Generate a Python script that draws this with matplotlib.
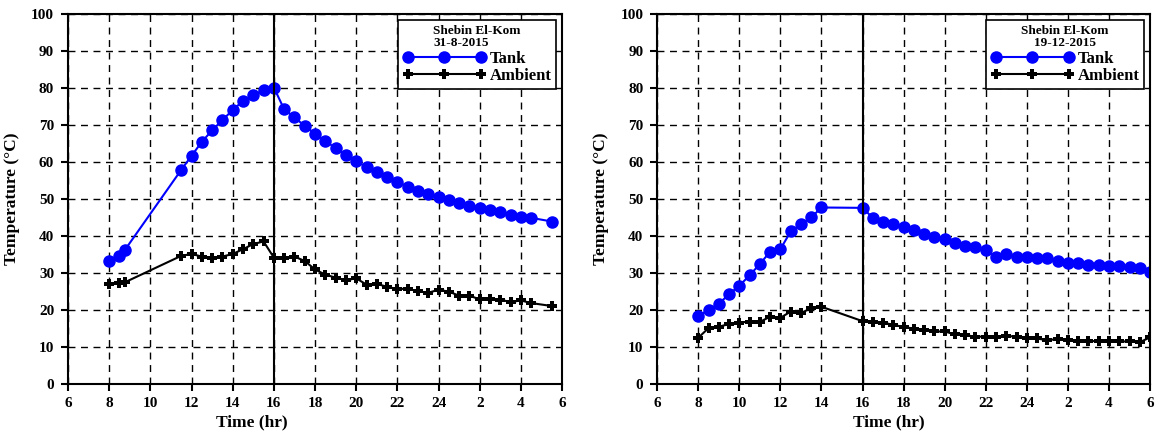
import numpy as np
import matplotlib.pyplot as plt

plt.rcParams['font.family'] = ['Liberation Serif', 'DejaVu Serif']
plt.rcParams['font.weight'] = 'bold'

# hours counted from midnight of the test day (24+ means next morning)
t1 = [8.0, 8.5, 8.75, 11.5, 12.0, 12.5, 13.0, 13.5, 14.0, 14.5, 15.0, 15.5, 16.0,
      16.5, 17.0, 17.5, 18.0, 18.5, 19.0, 19.5, 20.0, 20.5, 21.0, 21.5, 22.0,
      22.5, 23.0, 23.5, 24.0, 24.5, 25.0, 25.5, 26.0, 26.5, 27.0, 27.5, 28.0,
      28.5, 29.5]
tank1 = [33.3, 34.5, 36.1, 57.9, 61.7, 65.5, 68.6, 71.4, 74.1, 76.6, 78.1, 79.5, 80.2,
         74.3, 72.1, 69.8, 67.7, 65.7, 63.8, 61.9, 60.2, 58.7, 57.4, 55.9, 54.7,
         53.3, 52.3, 51.4, 50.6, 49.6, 49.0, 48.2, 47.6, 47.0, 46.5, 45.8, 45.2,
         44.9, 43.9]
amb1 = [27.0, 27.3, 27.4, 34.6, 35.1, 34.4, 33.9, 34.4, 35.1, 36.4, 37.8, 38.5, 34.1,
        34.1, 34.4, 33.2, 30.9, 29.5, 28.7, 28.0, 28.5, 26.8, 27.0, 26.2, 25.6,
        25.7, 25.0, 24.6, 25.4, 24.9, 23.8, 23.8, 22.8, 22.8, 22.7, 22.1, 22.5,
        21.8, 21.0]

t2 = [8.0, 8.5, 9.0, 9.5, 10.0, 10.5, 11.0, 11.5, 12.0, 12.5, 13.0, 13.5, 14.0,
      16.0, 16.5, 17.0, 17.5, 18.0, 18.5, 19.0, 19.5, 20.0, 20.5, 21.0, 21.5,
      22.0, 22.5, 23.0, 23.5, 24.0, 24.5, 25.0, 25.5, 26.0, 26.5, 27.0, 27.5,
      28.0, 28.5, 29.0, 29.5, 30.0]
tank2 = [18.4, 19.8, 21.6, 24.2, 26.5, 29.3, 32.4, 35.7, 36.4, 41.2, 43.2, 45.0, 47.7,
         47.6, 44.9, 43.9, 43.3, 42.4, 41.5, 40.5, 39.6, 39.2, 38.0, 37.4, 37.0,
         36.3, 34.3, 35.1, 34.3, 34.2, 34.0, 33.9, 33.1, 32.7, 32.7, 32.2, 32.0,
         31.9, 31.8, 31.6, 31.4, 30.1]
amb2 = [12.4, 15.0, 15.4, 16.1, 16.5, 16.8, 16.7, 18.1, 17.8, 19.5, 19.1, 20.4, 20.8,
        16.9, 16.8, 16.5, 15.9, 15.3, 14.9, 14.5, 14.1, 14.1, 13.3, 13.1, 12.7,
        12.7, 12.7, 12.9, 12.7, 12.3, 12.2, 11.7, 12.1, 11.8, 11.4, 11.5, 11.5,
        11.5, 11.4, 11.4, 11.2, 12.5]

xticks = np.arange(6, 31, 2)
xlabels = [str(h) if h <= 24 else str(h - 24) for h in xticks]


def panel(ax, t, tank, amb, title, align, xlab_pos):
    ax.plot(t, tank, '-o', color='blue', lw=1.5, ms=8, label='Tank')
    ax.plot(t, amb, '-P', color='black', lw=1.5, ms=7.5, mew=0, label='Ambient')
    ax.set_xlim(6, 30)
    ax.set_ylim(0, 100)
    ax.set_xticks(xticks)
    ax.set_xticklabels(xlabels)
    ax.set_yticks(np.arange(0, 101, 10))
    ax.grid(True, linestyle=(0, (5, 4)), color='black', lw=1)
    ax.axvline(16, color='black', lw=1.5)
    ax.tick_params(labelsize=11, width=1.5, length=5, pad=5)
    for s in ax.spines.values():
        s.set_linewidth(1.5)
    ax.set_xlabel('Time (hr)', fontsize=12.5, fontweight='bold', labelpad=0)
    ax.xaxis.set_label_coords(xlab_pos, -0.085)
    ax.set_ylabel('Temperature (\u00b0C)', fontsize=12.5, fontweight='bold', labelpad=8)
    leg = ax.legend(loc='upper right', title=title, numpoints=3, fancybox=False,
                    framealpha=1, edgecolor='black', fontsize=12,
                    title_fontproperties={'weight': 'bold', 'size': 9.5},
                    handlelength=5, borderaxespad=0.35, labelspacing=0.1,
                    borderpad=0.3, handletextpad=0.2)
    leg.get_title().set_multialignment(align)
    leg.get_title().set_linespacing(0.95)
    leg.get_frame().set_linewidth(1.2)


fig = plt.figure(figsize=(11.57, 4.38), dpi=100)
ax1 = fig.add_axes([0.0588, 0.1244, 0.427, 0.8425])
ax2 = fig.add_axes([0.568, 0.1244, 0.426, 0.8425])
panel(ax1, t1, tank1, amb1, 'Shebin El-Kom\n31-8-2015', 'left', 0.372)
panel(ax2, t2, tank2, amb2, 'Shebin El-Kom\n19-12-2015', 'center', 0.469)

fig.savefig('out.png', dpi=100)
